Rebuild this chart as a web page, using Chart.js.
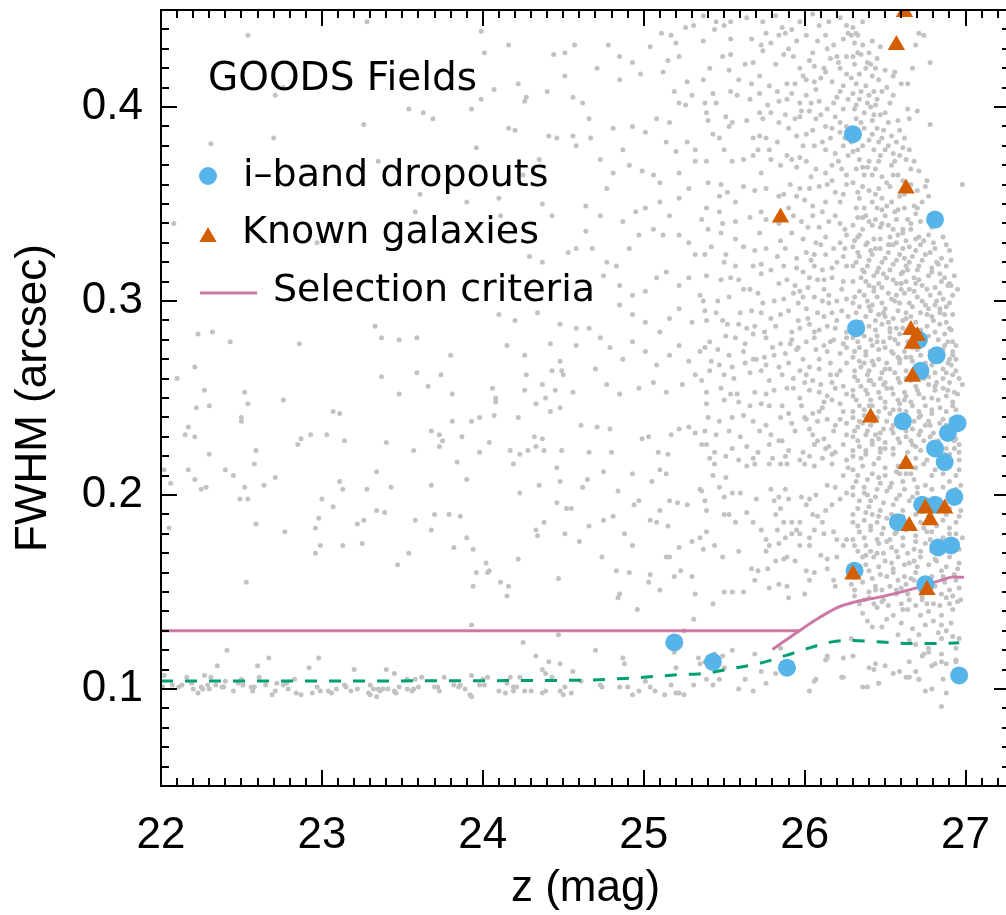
<!DOCTYPE html>
<html>
<head>
<meta charset="utf-8">
<title>GOODS Fields - FWHM vs z</title>
<script src="https://cdn.jsdelivr.net/npm/chart.js@4.4.0/dist/chart.umd.min.js"></script>
<style>
  html, body { margin: 0; padding: 0; background: #fff; overflow: hidden; }
  #wrap { width: 1006px; height: 915px; overflow: hidden; }
</style>
</head>
<body>
<div id="wrap"><canvas id="fwhmChart" width="1020" height="915"></canvas></div>
<script>
// axis ticks
const xTicks = [22, 23, 24, 25, 26, 27];
const yTicks = [0.1, 0.2, 0.3, 0.4];

// i-band dropouts
const dropMag  = [26.30, 26.81, 26.32, 26.71, 26.82, 26.72, 26.61, 26.95, 26.89, 26.81, 26.87, 26.93, 26.73, 26.81, 26.58, 26.91, 26.83, 26.31, 26.75, 25.19, 25.43, 25.89, 26.96];
const dropFwhm = [0.386, 0.342, 0.286, 0.280, 0.272, 0.264, 0.238, 0.237, 0.232, 0.224, 0.217, 0.199, 0.195, 0.195, 0.186, 0.174, 0.173, 0.161, 0.154, 0.124, 0.114, 0.111, 0.107];

// known galaxies
const knownMag  = [26.62, 26.57, 26.63, 25.85, 26.66, 26.70, 26.67, 26.67, 26.41, 26.63, 26.75, 26.87, 26.78, 26.65, 26.30, 26.76];
const knownFwhm = [0.449, 0.432, 0.358, 0.343, 0.285, 0.282, 0.278, 0.261, 0.240, 0.216, 0.193, 0.193, 0.187, 0.184, 0.159, 0.151];

// selection criteria (flat part + curved part)
const selFlatMag  = [22, 25.97];
const selFlatFwhm = [0.130, 0.130];
const selCurveMag  = [25.80, 25.97, 26.09, 26.21, 26.30, 26.48, 26.69, 26.86, 26.92, 26.99];
const selCurveFwhm = [0.1204, 0.1302, 0.1367, 0.1422, 0.1446, 0.1476, 0.1520, 0.1564, 0.1577, 0.1576];

// stellar locus (dashed)
const starMag  = [22, 24.60, 24.93, 25.22, 25.39, 25.55, 25.72, 25.88, 26.03, 26.17, 26.30, 26.48, 26.63, 26.79, 26.96];
const starFwhm = [0.1041, 0.1045, 0.1057, 0.1074, 0.1082, 0.1106, 0.1132, 0.1172, 0.1212, 0.1243, 0.1250, 0.1242, 0.1235, 0.1234, 0.1238];

// all field sources [z mag, FWHM]
const fieldSources = [
  // bright, large
  [22.54,0.437],[23.28,0.444],[23.99,0.439],[24.01,0.428],[24.16,0.432],[24.44,0.427],[24.51,0.428],[24.57,0.432],[24.51,0.416],[24.22,0.412],
  [24.07,0.409],[24.27,0.405],[24.26,0.403],[24.40,0.408],[23.99,0.404],[24.56,0.405],[22.71,0.406],[22.76,0.410],[23.54,0.399],[23.63,0.397],
  [23.69,0.394],[23.93,0.399],[23.26,0.391],[22.70,0.384],[22.31,0.381],[24.16,0.389],[24.20,0.388],[24.41,0.385],[24.46,0.384],[24.56,0.385],
  [23.96,0.379],[24.58,0.380],[24.35,0.373],[23.35,0.372],[24.25,0.365],[24.10,0.353],[23.90,0.351],[23.61,0.355],[24.37,0.350],[23.58,0.346],
  [24.43,0.344],[24.11,0.344],[22.08,0.340],[24.53,0.325],[24.58,0.327],[24.29,0.323],[22.97,0.330],[24.37,0.320],[24.10,0.293],[24.20,0.290],
  [24.34,0.294],[23.33,0.287],[24.48,0.288],[24.58,0.286],[22.23,0.283],[22.32,0.284],[22.43,0.279],[22.86,0.278],[23.37,0.281],[23.48,0.280],
  [23.59,0.281],[23.80,0.272],[24.15,0.277],[24.42,0.278],[24.26,0.272],[24.58,0.277],[22.21,0.266],[22.10,0.260],[22.27,0.254],[22.52,0.253],
  [22.76,0.249],[23.37,0.261],[23.59,0.263],[23.74,0.262],[23.66,0.256],[23.48,0.252],[23.81,0.252],[24.06,0.255],[24.27,0.262],[24.43,0.264],
  [24.48,0.269],[24.49,0.264],[24.50,0.262],[24.37,0.257],[24.45,0.254],[24.26,0.254],[24.08,0.250],[24.39,0.250],[24.56,0.253],
  // bright, medium
  [22.22,0.245],[22.30,0.246],[22.54,0.247],[22.15,0.231],[22.17,0.235],[22.21,0.230],[22.30,0.221],[22.17,0.213],[22.21,0.208],[22.06,0.206],
  [22.25,0.203],[22.28,0.204],[22.02,0.213],[22.05,0.183],[22.40,0.213],[22.45,0.210],[22.50,0.240],[22.50,0.238],[22.52,0.204],[22.49,0.198],
  [22.54,0.198],[22.58,0.216],[22.59,0.223],[22.64,0.205],[22.71,0.209],[22.59,0.185],[22.53,0.155],[22.77,0.181],[22.85,0.226],[22.87,0.229],
  [22.93,0.231],[23.03,0.231],[23.07,0.243],[23.11,0.242],[23.14,0.228],[23.00,0.198],[23.07,0.194],[22.98,0.188],[22.96,0.183],[22.99,0.174],
  [22.96,0.170],[23.11,0.207],[23.13,0.203],[23.13,0.174],[23.22,0.185],[23.26,0.187],[23.25,0.175],[23.28,0.203],[23.34,0.212],[23.34,0.192],
  [23.40,0.227],[23.39,0.191],[23.43,0.204],[23.47,0.164],[23.54,0.170],[23.57,0.223],[23.58,0.187],[23.68,0.233],[23.73,0.231],[23.75,0.228],
  [23.73,0.225],[23.81,0.238],[23.87,0.230],[23.84,0.217],[23.68,0.205],[23.70,0.190],[23.79,0.190],[23.86,0.189],[23.68,0.182],[23.82,0.173],
  [23.90,0.178],[23.90,0.208],[23.93,0.238],[23.94,0.172],[23.96,0.160],[23.94,0.153],[23.98,0.240],[23.98,0.222],[24.04,0.227],[24.07,0.241],
  [24.08,0.248],[24.22,0.240],[24.19,0.216],[24.17,0.223],[24.23,0.221],[24.28,0.223],[24.23,0.201],[24.32,0.230],[24.33,0.225],[24.37,0.229],
  [24.38,0.223],[24.33,0.247],[24.42,0.243],[24.48,0.245],[24.46,0.214],[24.48,0.207],[24.49,0.223],[24.46,0.196],[24.52,0.193],[24.55,0.193],
  [24.51,0.180],[24.33,0.182],[24.34,0.179],[24.38,0.186],[24.35,0.205],[24.22,0.167],[24.02,0.165],[24.04,0.161],[24.03,0.160],[24.11,0.155],
  [24.16,0.153],[24.15,0.148],[24.47,0.157],[23.93,0.133],[24.60,0.176],
  // bright, stellar locus
  [22.02,0.107],[22.01,0.101],[22.07,0.102],[22.11,0.101],[22.13,0.102],[22.16,0.106],[22.19,0.103],[22.20,0.100],[22.23,0.098],[22.25,0.101],
  [22.26,0.100],[22.27,0.107],[22.29,0.102],[22.30,0.100],[22.31,0.106],[22.34,0.102],[22.35,0.112],[22.38,0.101],[22.39,0.101],[22.40,0.104],
  [22.41,0.120],[22.45,0.099],[22.48,0.103],[22.50,0.105],[22.51,0.102],[22.56,0.101],[22.57,0.099],[22.58,0.101],[22.60,0.112],[22.61,0.106],
  [22.65,0.102],[22.67,0.116],[22.69,0.097],[22.71,0.099],[22.72,0.103],[22.76,0.102],[22.78,0.103],[22.79,0.100],[22.83,0.105],[22.84,0.098],
  [22.87,0.097],[22.92,0.111],[22.94,0.098],[22.97,0.101],[22.98,0.116],[22.99,0.099],[23.04,0.099],[23.06,0.098],[23.09,0.100],[23.14,0.102],
  [23.15,0.101],[23.18,0.099],[23.20,0.110],[23.22,0.100],[23.29,0.098],[23.30,0.102],[23.30,0.097],[23.32,0.100],[23.34,0.096],[23.35,0.100],
  [23.36,0.099],[23.38,0.100],[23.40,0.110],[23.41,0.100],[23.45,0.108],[23.45,0.099],[23.46,0.098],[23.48,0.101],[23.53,0.100],[23.53,0.105],
  [23.56,0.099],[23.57,0.100],[23.58,0.105],[23.60,0.101],[23.62,0.106],[23.70,0.101],[23.72,0.101],[23.73,0.099],[23.76,0.106],[23.82,0.102],
  [23.85,0.101],[23.86,0.102],[23.89,0.100],[23.92,0.097],[23.93,0.096],[23.93,0.107],[23.98,0.102],[24.01,0.102],[24.00,0.105],[24.03,0.106],
  [24.10,0.099],[24.14,0.098],[24.15,0.103],[24.17,0.106],[24.19,0.099],[24.19,0.101],[24.21,0.101],[24.23,0.106],[24.25,0.124],[24.26,0.099],
  [24.30,0.099],[24.33,0.117],[24.37,0.110],[24.37,0.098],[24.39,0.108],[24.39,0.099],[24.41,0.114],[24.43,0.106],[24.48,0.113],[24.48,0.099],
  [24.50,0.097],[24.51,0.101],[24.55,0.098],[24.56,0.109],[24.47,0.128],
  // mid, large
  [24.78,0.432],[24.85,0.426],[24.93,0.423],[24.71,0.420],[24.85,0.414],[24.98,0.417],[25.04,0.431],[25.12,0.418],[25.15,0.424],[25.11,0.438],
  [25.17,0.437],[25.20,0.433],[25.22,0.426],[25.26,0.441],[25.31,0.442],[25.27,0.413],[25.19,0.408],[25.22,0.402],[25.26,0.401],[25.30,0.406],
  [25.16,0.392],[25.08,0.394],[25.01,0.387],[24.93,0.390],[24.81,0.389],[24.73,0.373],[24.66,0.394],[24.62,0.402],[24.67,0.384],[24.87,0.378],
  [24.91,0.370],[24.99,0.367],[25.06,0.365],[25.10,0.361],[24.81,0.366],[24.77,0.358],[24.64,0.349],[24.73,0.344],[24.87,0.341],[24.95,0.346],
  [25.01,0.348],[25.10,0.351],[25.16,0.344],[25.22,0.353],[25.28,0.358],[25.32,0.378],[25.27,0.382],[25.20,0.377],[25.14,0.382],[25.32,0.372],
  [25.22,0.366],[25.28,0.330],[25.22,0.334],[25.12,0.334],[25.06,0.337],[24.97,0.334],[24.91,0.327],[24.83,0.318],[24.77,0.320],[24.68,0.327],
  [24.64,0.336],[25.32,0.324],[24.66,0.308],[24.75,0.313],[24.85,0.308],[24.93,0.303],[25.01,0.305],[25.08,0.312],[25.14,0.315],[25.22,0.308],
  [25.28,0.312],[25.35,0.303],[24.85,0.298],[24.93,0.293],[25.01,0.289],[25.10,0.284],[25.16,0.291],[25.22,0.296],[25.30,0.289],[24.66,0.286],
  [24.73,0.281],[24.79,0.276],[24.87,0.270],[24.93,0.279],[25.01,0.274],[25.08,0.267],[25.16,0.272],[25.22,0.277],[25.28,0.269],[25.35,0.274],
  [24.70,0.265],[24.77,0.257],[24.85,0.252],[24.97,0.255],[25.06,0.258],[25.14,0.253],[25.24,0.257],[25.32,0.262],
  // mid, medium and small
  [24.61,0.236],[24.71,0.235],[24.79,0.234],[24.66,0.222],[24.80,0.222],[24.75,0.212],[24.62,0.204],[24.65,0.208],[24.84,0.202],[24.93,0.211],
  [24.99,0.229],[25.03,0.230],[25.09,0.222],[25.10,0.213],[25.15,0.221],[25.17,0.231],[25.22,0.234],[25.28,0.235],[25.32,0.232],[25.36,0.226],
  [25.14,0.211],[25.05,0.207],[24.97,0.197],[24.94,0.195],[25.10,0.192],[25.16,0.197],[25.21,0.196],[25.27,0.195],[25.35,0.203],[24.66,0.184],
  [24.75,0.187],[24.81,0.189],[24.88,0.180],[24.93,0.174],[25.04,0.187],[25.08,0.186],[25.15,0.184],[25.16,0.168],[25.14,0.168],[25.22,0.173],
  [25.30,0.176],[25.35,0.178],[24.74,0.168],[24.83,0.161],[24.91,0.160],[25.04,0.159],[25.03,0.155],[25.10,0.151],[25.19,0.158],[25.23,0.161],
  [25.30,0.158],[24.85,0.149],[24.84,0.147],[24.96,0.141],[25.32,0.149],[25.25,0.130],[25.31,0.136],[24.70,0.120],[24.87,0.116],[24.88,0.113],
  [25.20,0.111],[25.19,0.119],[25.34,0.116],[25.35,0.113],[24.61,0.104],[24.73,0.102],[24.74,0.101],[24.85,0.101],[24.90,0.101],[24.93,0.097],
  [24.97,0.099],[25.01,0.104],[25.04,0.101],[25.07,0.099],[25.13,0.097],[25.17,0.102],[25.20,0.098],[25.22,0.098],[25.25,0.097],[25.31,0.102],
  // faint, large
  [25.37,0.447],[25.45,0.444],[25.50,0.442],[25.54,0.444],[25.64,0.446],[25.74,0.444],[25.82,0.447],[25.86,0.441],[25.92,0.440],[25.97,0.444],
  [26.05,0.448],[26.09,0.442],[26.15,0.444],[26.22,0.446],[26.26,0.442],[25.37,0.434],[25.44,0.440],[25.54,0.435],[25.67,0.435],[25.73,0.432],
  [25.76,0.438],[25.79,0.433],[25.84,0.437],[25.88,0.438],[25.95,0.434],[26.01,0.437],[26.08,0.434],[26.13,0.437],[26.18,0.432],[26.24,0.435],
  [26.27,0.438],[25.49,0.426],[25.54,0.427],[25.63,0.422],[25.68,0.423],[25.74,0.429],[25.82,0.422],[25.87,0.427],[25.93,0.426],[25.97,0.420],
  [26.03,0.424],[26.06,0.421],[26.12,0.420],[26.16,0.425],[26.20,0.426],[26.26,0.426],[26.22,0.420],[25.37,0.414],[25.41,0.420],[25.53,0.419],
  [25.59,0.414],[25.67,0.412],[25.72,0.416],[25.78,0.411],[25.83,0.408],[25.89,0.412],[25.94,0.412],[26.01,0.414],[26.06,0.413],[26.10,0.415],
  [26.17,0.413],[26.26,0.417],[26.22,0.408],[25.43,0.407],[25.38,0.402],[25.45,0.402],[25.54,0.408],[25.58,0.406],[25.66,0.404],[25.72,0.407],
  [25.77,0.401],[25.84,0.403],[25.89,0.404],[25.97,0.402],[26.01,0.406],[26.04,0.402],[26.09,0.403],[26.14,0.399],[26.18,0.402],[26.24,0.399],
  [26.27,0.404],[25.39,0.397],[25.40,0.393],[25.51,0.395],[25.55,0.392],[25.53,0.390],[25.64,0.393],[25.72,0.397],[25.74,0.394],[25.79,0.397],
  [25.84,0.392],[25.88,0.396],[25.94,0.394],[25.97,0.395],[26.03,0.398],[26.07,0.394],[26.13,0.390],[26.19,0.395],[26.22,0.387],[26.26,0.390],
  [25.43,0.386],[25.47,0.384],[25.50,0.378],[25.68,0.384],[25.72,0.385],[25.76,0.384],[25.71,0.378],[25.78,0.378],[25.83,0.382],[25.89,0.375],
  [25.95,0.385],[26.01,0.386],[26.06,0.380],[26.11,0.382],[26.16,0.384],[26.24,0.380],[26.19,0.376],[26.27,0.375],[25.39,0.372],[25.55,0.372],
  [25.62,0.373],[25.68,0.375],[25.73,0.366],[25.79,0.373],[25.85,0.370],[25.92,0.373],[25.97,0.374],[26.01,0.372],[26.07,0.368],[26.13,0.366],
  [26.17,0.370],[26.23,0.368],[26.26,0.365],[25.40,0.361],[25.48,0.360],[25.47,0.354],[25.52,0.356],[25.62,0.359],[25.69,0.357],[25.76,0.358],
  [25.84,0.354],[25.87,0.355],[25.95,0.354],[25.97,0.358],[26.03,0.358],[26.09,0.359],[26.14,0.360],[26.19,0.356],[26.26,0.360],[26.22,0.351],
  [26.13,0.351],[26.05,0.349],[25.90,0.348],[25.57,0.351],[25.39,0.348],[25.36,0.342],[25.47,0.346],[25.49,0.340],[25.57,0.341],[25.66,0.343],
  [25.73,0.346],[25.76,0.342],[25.93,0.344],[25.98,0.341],[26.05,0.344],[26.09,0.338],[26.15,0.341],[26.19,0.344],[26.25,0.337],[25.40,0.337],
  [25.90,0.430],[26.05,0.428],[26.14,0.430],[26.21,0.423],[25.99,0.416],[26.13,0.418],[26.24,0.411],[25.92,0.407],[26.07,0.409],[26.20,0.405],
  [25.98,0.398],[26.10,0.396],[26.22,0.392],[25.90,0.389],[26.05,0.388],[26.17,0.389],[26.25,0.384],[25.99,0.380],[26.13,0.378],[26.21,0.372],
  [25.95,0.369],[26.04,0.364],[26.17,0.362],[26.24,0.355],[25.91,0.360],[26.00,0.352],[26.11,0.346],[26.22,0.340],[25.84,0.340],[26.02,0.338],
  // faintest, large
  [26.30,0.441],[26.32,0.438],[26.36,0.444],[26.31,0.433],[26.36,0.432],[26.42,0.434],[26.47,0.431],[26.30,0.426],[26.35,0.427],[26.40,0.428],
  [26.31,0.422],[26.41,0.422],[26.44,0.420],[26.55,0.416],[26.56,0.418],[26.32,0.412],[26.38,0.411],[26.43,0.408],[26.48,0.408],[26.51,0.410],
  [26.30,0.407],[26.34,0.404],[26.39,0.402],[26.44,0.401],[26.53,0.402],[26.31,0.399],[26.37,0.397],[26.41,0.400],[26.47,0.396],[26.32,0.394],
  [26.42,0.393],[26.45,0.389],[26.37,0.389],[26.40,0.383],[26.48,0.384],[26.54,0.385],[26.59,0.388],[26.64,0.399],[26.70,0.398],[26.65,0.394],
  [26.60,0.412],[26.64,0.412],[26.71,0.438],[26.74,0.437],[26.78,0.423],[26.78,0.391],[26.98,0.360],[26.36,0.380],[26.43,0.378],[26.50,0.378],
  [26.57,0.382],[26.62,0.384],[26.65,0.378],[26.30,0.377],[26.34,0.373],[26.40,0.372],[26.46,0.372],[26.54,0.370],[26.59,0.375],[26.63,0.373],
  [26.66,0.368],[26.71,0.367],[26.32,0.368],[26.37,0.365],[26.42,0.365],[26.48,0.364],[26.55,0.365],[26.30,0.361],[26.36,0.359],[26.40,0.357],
  [26.46,0.358],[26.53,0.359],[26.59,0.354],[26.34,0.353],[26.42,0.351],[26.48,0.353],[26.54,0.351],[26.62,0.348],[26.69,0.345],[26.32,0.348],
  [26.38,0.344],[26.44,0.342],[26.50,0.344],[26.57,0.342],[26.64,0.342],[26.66,0.340],[26.30,0.339],[26.36,0.337],[26.42,0.339],[26.48,0.340],
  [26.55,0.337],[26.61,0.337],[26.75,0.359],[26.77,0.354],[26.73,0.351],[26.76,0.362],[26.67,0.420],[26.69,0.432],[26.29,0.437],[26.33,0.437],
  [26.39,0.423],[26.34,0.417],[26.46,0.414],[26.40,0.406],[26.50,0.397],[26.29,0.382],[26.46,0.382],[26.55,0.376],[26.39,0.369],[26.61,0.362],
  [26.45,0.348],[26.58,0.347],[26.68,0.349],
  [26.33,0.428],[26.38,0.420],[26.45,0.425],[26.29,0.415],[26.42,0.416],[26.50,0.419],[26.35,0.408],[26.45,0.404],[26.55,0.406],[26.32,0.401],
  [26.43,0.396],[26.52,0.392],[26.35,0.392],[26.49,0.388],[26.58,0.393],[26.32,0.385],[26.42,0.386],[26.52,0.380],[26.61,0.379],[26.33,0.378],
  [26.47,0.375],[26.56,0.372],[26.68,0.372],[26.36,0.369],[26.44,0.368],[26.51,0.361],[26.58,0.365],[26.66,0.360],[26.33,0.356],[26.44,0.355],
  [26.51,0.349],[26.62,0.355],[26.70,0.357],[26.37,0.348],[26.40,0.341],[26.52,0.339],[26.72,0.341],[26.33,0.343],
  // faint, medium
  [25.48,0.335],[25.57,0.332],[25.72,0.335],[25.85,0.331],[25.92,0.335],[25.99,0.332],[26.07,0.330],[26.13,0.333],[26.22,0.330],[26.26,0.334],
  [25.42,0.328],[25.38,0.324],[25.51,0.324],[25.62,0.328],[25.69,0.326],[25.76,0.327],[25.83,0.323],[25.88,0.327],[25.95,0.322],[26.01,0.325],
  [26.06,0.324],[26.13,0.324],[26.18,0.327],[26.24,0.323],[25.50,0.320],[25.57,0.318],[25.68,0.318],[25.73,0.319],[25.79,0.316],[25.87,0.318],
  [25.95,0.317],[25.99,0.315],[26.06,0.318],[26.11,0.316],[26.17,0.317],[26.26,0.318],[25.39,0.313],[25.48,0.311],[25.54,0.312],[25.59,0.311],
  [25.66,0.306],[25.73,0.314],[25.84,0.309],[25.89,0.311],[25.94,0.308],[25.97,0.305],[26.02,0.307],[26.08,0.311],[26.12,0.306],[26.17,0.312],
  [26.24,0.310],[25.37,0.300],[25.46,0.300],[25.53,0.302],[25.62,0.306],[25.71,0.304],[25.74,0.299],[25.81,0.300],[25.87,0.301],[25.93,0.304],
  [25.99,0.302],[26.06,0.302],[26.11,0.300],[26.15,0.299],[26.20,0.300],[26.26,0.301],[25.38,0.295],[25.45,0.294],[25.60,0.294],[25.67,0.295],
  [25.73,0.294],[25.79,0.291],[25.85,0.293],[25.90,0.295],[25.96,0.290],[26.01,0.296],[26.08,0.294],[26.12,0.292],[26.17,0.294],[26.23,0.295],
  [26.27,0.292],[25.39,0.290],[25.49,0.290],[25.52,0.288],[25.59,0.288],[25.64,0.286],[25.69,0.287],[25.75,0.284],[25.82,0.287],[25.92,0.284],
  [25.97,0.286],[26.03,0.288],[26.09,0.285],[26.14,0.287],[26.19,0.286],[26.26,0.284],[25.41,0.279],[25.51,0.282],[25.57,0.281],[25.63,0.278],
  [25.68,0.283],[25.76,0.281],[25.80,0.276],[25.85,0.278],[25.92,0.280],[25.96,0.276],[26.01,0.279],[26.06,0.281],[26.12,0.277],[26.18,0.280],
  [26.24,0.278],[25.38,0.276],[25.46,0.275],[25.53,0.272],[25.62,0.274],[25.68,0.270],[25.75,0.271],[25.81,0.272],[25.88,0.273],[25.95,0.275],
  [25.99,0.270],[26.07,0.275],[26.14,0.274],[26.22,0.273],[26.26,0.276],[25.42,0.269],[25.47,0.267],[25.55,0.266],[25.63,0.268],[25.70,0.270],
  [25.76,0.267],[25.84,0.266],[25.90,0.268],[25.97,0.264],[26.03,0.266],[26.09,0.265],[26.16,0.268],[26.22,0.264],[26.26,0.268],[25.36,0.259],
  [25.41,0.264],[25.50,0.262],[25.56,0.260],[25.66,0.263],[25.73,0.264],[25.78,0.259],[25.86,0.262],[25.93,0.260],[26.00,0.258],[26.05,0.259],
  [26.10,0.257],[26.17,0.258],[26.24,0.256],[25.39,0.253],[25.48,0.255],[25.54,0.252],[25.58,0.252],[25.69,0.253],[25.76,0.252],[25.81,0.254],
  [25.89,0.255],[25.97,0.250],[26.03,0.254],[26.09,0.253],[26.14,0.251],[26.19,0.255],[26.26,0.252],[25.39,0.247],[25.50,0.249],[25.59,0.248],
  [25.66,0.246],[25.73,0.247],[25.78,0.246],[25.86,0.246],[25.90,0.242],[25.98,0.246],[26.05,0.242],[26.11,0.245],[26.17,0.249],[26.24,0.243],
  [25.40,0.240],[25.47,0.238],[25.55,0.240],[25.62,0.241],[25.68,0.238],[25.76,0.236],[25.85,0.240],[25.92,0.237],[26.01,0.239],[26.08,0.238],
  [26.14,0.239],[26.19,0.236],[26.26,0.237],[25.38,0.233],[25.45,0.231],[25.53,0.233],[25.60,0.230],[25.72,0.233],[25.79,0.231],[25.86,0.228],
  [25.94,0.233],[26.05,0.231],[26.12,0.229],[26.18,0.233],[26.26,0.231],[25.39,0.226],[25.44,0.222],[25.55,0.224],[25.64,0.225],[25.71,0.222],
  [25.78,0.226],[25.84,0.228],[25.90,0.223],[25.99,0.222],[26.06,0.226],[26.13,0.224],[26.19,0.222],[26.24,0.226],[25.41,0.219],[25.51,0.220],
  [25.59,0.218],[25.68,0.219],[25.80,0.219],[25.88,0.220],[25.97,0.218],[26.03,0.220],[26.11,0.219],[26.17,0.221],[26.26,0.218],
  [26.10,0.329],[26.20,0.320],[26.03,0.312],[26.15,0.303],[26.23,0.306],[26.02,0.291],[26.20,0.290],[26.06,0.284],[26.16,0.279],[26.09,0.270],
  [26.20,0.262],[26.01,0.262],[26.12,0.248],[26.22,0.247],[26.03,0.234],[26.15,0.225],[26.09,0.243],[26.22,0.239],
  [25.93,0.255],[26.00,0.240],[26.08,0.228],[26.16,0.262],[26.26,0.281],[25.96,0.299],[26.12,0.311],[26.25,0.327],[26.04,0.321],[25.91,0.278],
  // faintest, medium
  [26.34,0.334],[26.43,0.332],[26.53,0.333],[26.61,0.335],[26.69,0.332],[26.77,0.334],[26.86,0.333],
  [26.30,0.328],[26.38,0.329],[26.47,0.327],[26.57,0.330],[26.65,0.328],[26.72,0.329],[26.81,0.327],[26.88,0.329],
  [26.34,0.323],[26.42,0.324],[26.50,0.322],[26.59,0.324],[26.67,0.323],[26.75,0.324],[26.85,0.322],
  [26.30,0.318],[26.39,0.318],[26.46,0.317],[26.55,0.319],[26.63,0.318],[26.71,0.318],[26.79,0.317],[26.88,0.318],
  [26.35,0.312],[26.43,0.313],[26.51,0.312],[26.60,0.314],[26.68,0.312],[26.77,0.313],[26.87,0.312],[26.93,0.313],
  [26.40,0.308],[26.48,0.307],[26.57,0.309],[26.65,0.306],[26.73,0.308],[26.81,0.307],[26.90,0.309],
  [26.31,0.302],[26.37,0.303],[26.45,0.302],[26.54,0.301],[26.62,0.304],[26.70,0.302],[26.78,0.303],[26.86,0.301],[26.95,0.306],
  [26.34,0.297],[26.42,0.298],[26.50,0.296],[26.59,0.299],[26.67,0.297],[26.75,0.298],[26.84,0.296],[26.90,0.299],
  [26.38,0.292],[26.46,0.293],[26.55,0.291],[26.63,0.294],[26.72,0.294],[26.79,0.292],[26.87,0.293],
  [26.40,0.287],[26.48,0.288],[26.57,0.286],[26.76,0.287],[26.84,0.288],[26.90,0.286],
  [26.30,0.281],[26.37,0.282],[26.45,0.282],[26.53,0.281],[26.59,0.283],[26.77,0.282],[26.87,0.283],[26.92,0.279],
  [26.34,0.276],[26.42,0.277],[26.50,0.276],[26.58,0.278],[26.67,0.276],[26.87,0.277],[26.94,0.277],
  [26.30,0.271],[26.38,0.272],[26.46,0.270],[26.55,0.273],[26.63,0.271],[26.72,0.272],[26.90,0.270],[26.94,0.270],
  [26.35,0.266],[26.43,0.267],[26.50,0.265],[26.59,0.268],[26.79,0.267],[26.86,0.265],[26.91,0.267],[26.96,0.260],
  [26.31,0.261],[26.39,0.262],[26.47,0.260],[26.56,0.263],[26.63,0.260],[26.77,0.261],[26.86,0.260],[26.92,0.262],
  [26.35,0.256],[26.43,0.257],[26.51,0.255],[26.59,0.258],[26.69,0.256],[26.77,0.257],[26.86,0.255],[26.93,0.253],[26.98,0.257],
  [26.30,0.251],[26.39,0.252],[26.47,0.250],[26.55,0.252],[26.63,0.251],[26.71,0.252],[26.79,0.250],[26.88,0.251],[26.95,0.252],
  [26.34,0.246],[26.42,0.246],[26.50,0.245],[26.59,0.247],[26.67,0.246],[26.75,0.246],[26.84,0.245],[26.92,0.246],
  [26.30,0.240],[26.37,0.241],[26.45,0.240],[26.53,0.242],[26.71,0.240],[26.79,0.242],[26.86,0.239],
  [26.33,0.235],[26.41,0.236],[26.49,0.234],[26.57,0.237],[26.67,0.234],[26.75,0.236],[26.94,0.229],
  [26.30,0.230],[26.38,0.231],[26.46,0.229],[26.55,0.232],[26.63,0.230],[26.71,0.231],[26.78,0.230],[26.96,0.226],
  [26.34,0.225],[26.42,0.226],[26.50,0.224],[26.59,0.227],[26.69,0.225],[26.88,0.224],[26.96,0.222],
  [26.30,0.220],[26.38,0.221],[26.46,0.219],[26.55,0.221],[26.69,0.219],[26.90,0.221],[26.96,0.218],
  [26.31,0.331],[26.39,0.330],[26.47,0.332],[26.55,0.329],[26.63,0.331],[26.71,0.333],[26.80,0.330],
  [26.33,0.325],[26.44,0.327],[26.52,0.325],[26.61,0.327],[26.69,0.326],[26.78,0.325],[26.90,0.326],
  [26.32,0.320],[26.40,0.321],[26.48,0.320],[26.57,0.321],[26.65,0.320],[26.73,0.321],[26.82,0.320],[26.91,0.321],
  [26.37,0.315],[26.45,0.315],[26.53,0.316],[26.61,0.315],[26.70,0.316],[26.79,0.315],[26.84,0.314],
  [26.30,0.310],[26.38,0.310],[26.46,0.309],[26.55,0.311],[26.63,0.310],[26.71,0.311],[26.85,0.310],[26.91,0.308],
  [26.34,0.305],[26.43,0.305],[26.52,0.304],[26.60,0.306],[26.68,0.305],[26.76,0.306],[26.84,0.304],[26.92,0.303],
  [26.30,0.299],[26.39,0.300],[26.48,0.299],[26.56,0.300],[26.65,0.299],[26.73,0.300],[26.81,0.298],[26.88,0.297],
  [26.32,0.294],[26.41,0.295],[26.49,0.294],[26.58,0.295],[26.66,0.292],[26.76,0.293],[26.84,0.294],[26.92,0.293],
  [26.35,0.289],[26.44,0.290],[26.52,0.289],[26.61,0.290],[26.69,0.289],[26.80,0.290],[26.88,0.289],
  [26.30,0.284],[26.36,0.285],[26.44,0.285],[26.53,0.284],[26.61,0.286],[26.68,0.284],[26.72,0.285],[26.81,0.284],[26.91,0.285],
  [26.33,0.279],[26.41,0.280],[26.49,0.279],[26.56,0.280],[26.64,0.279],[26.74,0.279],[26.83,0.280],[26.89,0.279],
  [26.31,0.274],[26.38,0.274],[26.46,0.275],[26.54,0.274],[26.62,0.274],[26.70,0.275],[26.78,0.274],[26.85,0.273],[26.92,0.274],
  [26.34,0.269],[26.42,0.269],[26.51,0.268],[26.59,0.270],[26.67,0.269],[26.75,0.268],[26.83,0.269],[26.89,0.268],
  [26.31,0.264],[26.40,0.264],[26.48,0.263],[26.53,0.265],[26.63,0.264],[26.71,0.265],[26.81,0.263],[26.88,0.263],[26.94,0.264],
  [26.33,0.259],[26.41,0.259],[26.50,0.258],[26.58,0.260],[26.66,0.259],[26.74,0.260],[26.82,0.258],[26.90,0.258],
  [26.30,0.254],[26.38,0.254],[26.46,0.253],[26.54,0.255],[26.62,0.253],[26.70,0.254],[26.81,0.254],[26.89,0.254],
  [26.32,0.249],[26.41,0.249],[26.50,0.248],[26.58,0.249],[26.66,0.248],[26.74,0.250],[26.83,0.249],[26.92,0.248],
  [26.30,0.243],[26.37,0.244],[26.46,0.243],[26.55,0.244],[26.63,0.243],[26.71,0.243],[26.79,0.244],[26.88,0.243],[26.94,0.244],
  [26.34,0.238],[26.43,0.238],[26.51,0.238],[26.60,0.239],[26.68,0.238],[26.77,0.238],[26.84,0.237],[26.91,0.239],
  [26.31,0.233],[26.39,0.233],[26.47,0.232],[26.54,0.234],[26.63,0.233],[26.72,0.233],[26.80,0.232],[26.92,0.234],
  [26.33,0.228],[26.42,0.228],[26.50,0.227],[26.58,0.229],[26.66,0.228],[26.74,0.228],[26.83,0.228],[26.93,0.228],
  [26.30,0.223],[26.38,0.223],[26.47,0.222],[26.55,0.224],[26.64,0.222],[26.72,0.223],[26.80,0.224],[26.87,0.221],[26.93,0.224],
  [26.36,0.343],[26.47,0.338],[26.58,0.334],[26.66,0.337],[26.52,0.329],[26.41,0.326],[26.74,0.331],[26.62,0.322],[26.83,0.319],[26.36,0.316],
  [26.49,0.314],[26.69,0.309],[26.57,0.303],[26.82,0.300],[26.40,0.297],[26.63,0.291],[26.53,0.286],[26.71,0.282],[26.45,0.279],[26.86,0.275],
  [26.58,0.271],[26.37,0.268],[26.69,0.262],[26.49,0.257],[26.81,0.256],[26.62,0.249],[26.40,0.246],[26.72,0.241],[26.55,0.236],[26.86,0.233],
  [26.44,0.231],[26.67,0.226],[26.53,0.329],[26.64,0.316],[26.43,0.307],[26.77,0.296],[26.50,0.292],[26.66,0.271],[26.40,0.259],[26.59,0.244],
  [26.78,0.236],[26.47,0.224],[26.88,0.236],[26.92,0.272],[26.89,0.308],[26.79,0.338],[26.56,0.346],[26.70,0.348],[26.48,0.347],[26.33,0.333],
  [26.60,0.309],[26.74,0.265],[26.36,0.237],
  // faint, small
  [25.44,0.216],[25.64,0.215],[25.69,0.216],[25.78,0.216],[25.85,0.216],[25.89,0.216],[26.00,0.216],[26.06,0.215],[26.17,0.216],[26.24,0.210],
  [26.27,0.214],[25.43,0.210],[25.51,0.209],[25.55,0.201],[25.50,0.199],[25.60,0.201],[25.47,0.204],[25.38,0.197],[25.39,0.192],[25.36,0.202],
  [25.70,0.198],[25.64,0.191],[25.68,0.186],[25.57,0.186],[25.50,0.190],[25.53,0.190],[25.39,0.181],[25.44,0.174],[25.37,0.172],[25.79,0.203],
  [25.81,0.197],[25.84,0.199],[25.88,0.203],[25.90,0.198],[25.85,0.193],[25.82,0.190],[25.87,0.186],[25.92,0.186],[25.95,0.182],[25.97,0.186],
  [26.01,0.195],[25.98,0.199],[26.03,0.198],[26.07,0.200],[26.05,0.190],[26.08,0.189],[26.11,0.186],[26.13,0.192],[26.17,0.195],[26.22,0.198],
  [26.26,0.201],[26.19,0.204],[26.14,0.205],[25.73,0.182],[25.76,0.177],[25.83,0.182],[25.88,0.178],[25.92,0.180],[25.97,0.180],[26.03,0.178],
  [26.06,0.182],[26.12,0.180],[26.18,0.181],[26.26,0.177],[26.20,0.177],[25.76,0.171],[25.49,0.168],[25.59,0.171],[25.78,0.174],[25.84,0.175],
  [25.89,0.168],[25.97,0.174],[26.03,0.174],[26.10,0.169],[26.14,0.167],[26.24,0.174],[26.20,0.168],[25.67,0.162],[25.71,0.161],[25.77,0.162],
  [25.82,0.166],[25.87,0.167],[25.94,0.166],[26.01,0.161],[26.06,0.160],[26.14,0.162],[25.69,0.156],[25.78,0.152],[25.84,0.154],[25.89,0.153],
  [26.03,0.156],[26.18,0.156],[26.19,0.153],[25.50,0.150],[25.55,0.150],[25.62,0.150],[25.43,0.144],[25.90,0.147],[26.00,0.149],[25.44,0.118],
  [25.49,0.117],[25.55,0.120],[25.69,0.118],[25.73,0.109],[25.63,0.105],[25.76,0.103],[25.82,0.108],[25.85,0.121],[26.06,0.104],[26.13,0.115],
  [26.14,0.117],[26.24,0.106],[25.39,0.105],[25.47,0.105],[25.43,0.102],[25.59,0.100],[25.68,0.099],[25.38,0.114],[25.50,0.111],
  [26.03,0.099],[26.07,0.105],[26.23,0.106],[26.14,0.116],[26.24,0.116],
  // faintest, small
  [26.30,0.213],[26.36,0.215],[26.43,0.216],[26.50,0.214],[26.57,0.212],[26.69,0.214],[26.74,0.216],[26.81,0.213],[26.90,0.215],[26.96,0.213],
  [26.32,0.207],[26.39,0.208],[26.46,0.209],[26.54,0.206],[26.61,0.207],[26.68,0.208],[26.75,0.205],[26.90,0.207],[26.97,0.205],
  [26.30,0.200],[26.37,0.201],[26.44,0.199],[26.51,0.202],[26.59,0.200],[26.67,0.199],[26.96,0.198],
  [26.33,0.193],[26.40,0.194],[26.47,0.192],[26.55,0.195],[26.61,0.192],[26.71,0.192],[26.90,0.193],[26.97,0.192],
  [26.30,0.186],[26.37,0.187],[26.45,0.186],[26.51,0.188],[26.72,0.186],[26.86,0.187],[26.94,0.186],
  [26.34,0.181],[26.41,0.182],[26.48,0.180],[26.56,0.180],[26.63,0.182],[26.69,0.179],[26.76,0.181],[26.94,0.180],[26.98,0.178],
  [26.31,0.174],[26.38,0.174],[26.46,0.175],[26.54,0.173],[26.61,0.174],[26.68,0.172],[26.75,0.175],[26.79,0.171],[26.96,0.172],
  [26.36,0.168],[26.43,0.168],[26.50,0.166],[26.58,0.168],[26.65,0.165],[26.72,0.168],[26.81,0.167],[26.90,0.168],[26.96,0.165],
  [26.40,0.161],[26.47,0.159],[26.55,0.162],[26.62,0.158],[26.69,0.160],[26.85,0.161],[26.93,0.159],
  [26.29,0.154],[26.36,0.155],[26.44,0.151],[26.53,0.153],[26.60,0.152],[26.68,0.156],[26.81,0.153],[26.90,0.151],[26.96,0.152],
  [26.31,0.148],[26.40,0.147],[26.48,0.145],[26.57,0.149],[26.65,0.146],[26.73,0.148],[26.80,0.144],[26.88,0.147],[26.95,0.145],
  [26.36,0.139],[26.45,0.142],[26.55,0.138],[26.64,0.141],[26.72,0.138],[26.77,0.140],[26.85,0.138],[26.92,0.141],
  [26.42,0.132],[26.48,0.132],[26.67,0.131],[26.71,0.128],[26.80,0.135],[26.85,0.133],[26.88,0.130],
  [26.29,0.126],[26.65,0.125],[26.69,0.123],[26.77,0.121],[26.85,0.126],[26.92,0.127],[26.96,0.126],
  [26.30,0.117],[26.40,0.111],[26.44,0.113],[26.50,0.112],[26.59,0.109],[26.65,0.114],[26.73,0.117],[26.77,0.119],[26.81,0.113],[26.85,0.114],
  [26.88,0.113],[26.94,0.114],[26.39,0.101],[26.46,0.103],[26.55,0.108],[26.63,0.106],[26.71,0.105],[26.79,0.100],[26.86,0.105],[26.69,0.109],
  [26.85,0.091],[26.88,0.098],[26.75,0.099],[26.36,0.101],[26.43,0.110],[26.46,0.103],[26.65,0.106],[26.71,0.105],[26.85,0.118],[26.74,0.118],
  [26.79,0.112],[26.94,0.115],
  [26.33,0.210],[26.42,0.211],[26.50,0.210],[26.59,0.211],[26.66,0.211],[26.79,0.210],[26.86,0.211],[26.94,0.210],
  [26.30,0.204],[26.37,0.204],[26.45,0.203],[26.53,0.204],[26.62,0.203],[26.70,0.204],[26.79,0.203],[26.86,0.204],[26.94,0.203],
  [26.34,0.197],[26.41,0.197],[26.49,0.196],[26.57,0.198],[26.65,0.197],[26.75,0.197],[26.84,0.197],[26.92,0.197],
  [26.30,0.190],[26.38,0.191],[26.46,0.189],[26.54,0.190],[26.61,0.189],[26.69,0.190],[26.77,0.189],[26.88,0.190],[26.96,0.189],
  [26.33,0.184],[26.41,0.184],[26.49,0.183],[26.57,0.184],[26.65,0.184],[26.74,0.183],[26.82,0.184],[26.90,0.183],
  [26.30,0.177],[26.37,0.178],[26.45,0.177],[26.53,0.177],[26.61,0.178],[26.69,0.176],[26.78,0.177],[26.86,0.178],[26.92,0.176],
  [26.33,0.171],[26.41,0.171],[26.49,0.170],[26.57,0.171],[26.64,0.170],[26.72,0.171],[26.84,0.170],[26.92,0.171],
  [26.30,0.164],[26.38,0.164],[26.46,0.163],[26.54,0.165],[26.62,0.164],[26.70,0.163],[26.77,0.164],[26.88,0.163],[26.95,0.162],
  [26.33,0.158],[26.42,0.157],[26.51,0.158],[26.58,0.156],[26.66,0.157],[26.79,0.158],[26.86,0.158],[26.94,0.156],
  [26.31,0.151],[26.40,0.150],[26.48,0.151],[26.57,0.151],[26.64,0.149],[26.72,0.151],[26.85,0.149],[26.92,0.148],
  [26.34,0.144],[26.43,0.144],[26.52,0.143],[26.60,0.144],[26.69,0.143],[26.76,0.144],[26.84,0.143],[26.90,0.144],[26.97,0.146],
  [26.39,0.135],[26.51,0.136],[26.60,0.134],[26.75,0.133],[26.83,0.129],[26.91,0.134],[26.58,0.128],[26.94,0.121],
  [26.35,0.219],[26.76,0.218],[26.58,0.215],[26.47,0.206],[26.70,0.201],[26.82,0.195],[26.42,0.190],[26.60,0.186],[26.79,0.181],[26.51,0.176],
  [26.38,0.169],[26.68,0.166],[26.55,0.160],[26.87,0.155],[26.44,0.153],[26.73,0.146],[26.61,0.141],[26.37,0.146],[26.63,0.211],[26.39,0.200],
  [26.75,0.192],[26.57,0.181],[26.45,0.170],[26.82,0.166],[26.63,0.154],[26.49,0.146],[26.90,0.180]
];

const LABEL_FONT = "'Liberation Sans', Arial, sans-serif";
const LEGEND_FONT = "'DejaVu Sans', sans-serif";

const toXY = (xs, ys) => xs.map((v, i) => ({ x: v, y: ys[i] }));

// frame with inward ticks on all four sides
const framePlugin = {
  id: 'frame',
  afterDraw(chart) {
    const { ctx, chartArea: a, scales: { x, y } } = chart;
    ctx.save();
    ctx.strokeStyle = '#000';
    ctx.lineWidth = 2;
    ctx.strokeRect(a.left, a.top, a.right - a.left, a.bottom - a.top);
    ctx.beginPath();
    for (let i = 220; i <= 272; i++) {
      const px = Math.round(x.getPixelForValue(i / 10));
      const len = i % 10 === 0 ? 16 : 8;
      ctx.moveTo(px, a.bottom); ctx.lineTo(px, a.bottom - len);
      ctx.moveTo(px, a.top); ctx.lineTo(px, a.top + len);
    }
    for (let i = 5; i <= 45; i++) {
      const py = Math.round(y.getPixelForValue(i / 100));
      const len = i % 10 === 0 ? 16 : 8;
      ctx.moveTo(a.left, py); ctx.lineTo(a.left + len, py);
      ctx.moveTo(a.right, py); ctx.lineTo(a.right - len, py);
    }
    ctx.stroke();
    ctx.restore();
  }
};

// legend in the upper-left corner
const legendPlugin = {
  id: 'cornerLegend',
  afterDraw(chart) {
    const { ctx, chartArea: a } = chart;
    const x0 = a.left;
    const y0 = a.top;
    ctx.save();
    ctx.fillStyle = '#000';
    ctx.textBaseline = 'alphabetic';
    ctx.textAlign = 'left';
    ctx.font = '39px ' + LEGEND_FONT;
    ctx.fillText('GOODS Fields', x0 + 47, y0 + 80);

    ctx.font = '38px ' + LEGEND_FONT;
    // circle
    ctx.fillStyle = '#56B4E9';
    ctx.beginPath();
    ctx.arc(x0 + 47, y0 + 166, 9, 0, Math.PI * 2);
    ctx.fill();
    ctx.fillStyle = '#000';
    ctx.fillText('i\u2013band dropouts', x0 + 82, y0 + 176);

    // triangle
    const tx = x0 + 47, ty = y0 + 227, r = 10;
    ctx.fillStyle = '#D55E00';
    ctx.beginPath();
    ctx.moveTo(tx, ty - r);
    ctx.lineTo(tx + r * 0.866, ty + r / 2);
    ctx.lineTo(tx - r * 0.866, ty + r / 2);
    ctx.closePath();
    ctx.fill();
    ctx.fillStyle = '#000';
    ctx.fillText('Known galaxies', x0 + 81, y0 + 233);

    // line
    ctx.strokeStyle = '#CC79A7';
    ctx.lineWidth = 3;
    ctx.beginPath();
    ctx.moveTo(x0 + 39, y0 + 283);
    ctx.lineTo(x0 + 96, y0 + 283);
    ctx.stroke();
    ctx.fillText('Selection criteria', x0 + 112, y0 + 291);
    ctx.restore();
  }
};

const ctx = document.getElementById('fwhmChart').getContext('2d');
const fwhmChart = new Chart(ctx, {
  type: 'scatter',
  data: {
    datasets: [
      {
        label: 'Known galaxies',
        data: toXY(knownMag, knownFwhm),
        pointStyle: 'triangle',
        pointRadius: 10,
        pointBackgroundColor: '#D55E00',
        pointBorderWidth: 0,
        clip: 0,
        order: 0
      },
      {
        label: 'i-band dropouts',
        data: toXY(dropMag, dropFwhm),
        pointStyle: 'circle',
        pointRadius: 9,
        pointBackgroundColor: '#56B4E9',
        pointBorderWidth: 0,
        clip: 0,
        order: 1
      },
      {
        label: 'Selection criteria',
        data: toXY(selFlatMag, selFlatFwhm),
        showLine: true,
        borderColor: '#CC79A7',
        borderWidth: 3,
        pointRadius: 0,
        order: 2
      },
      {
        label: 'Selection criteria (faint)',
        data: toXY(selCurveMag, selCurveFwhm),
        showLine: true,
        borderColor: '#CC79A7',
        borderWidth: 3,
        pointRadius: 0,
        cubicInterpolationMode: 'monotone',
        order: 2
      },
      {
        label: 'Stars',
        data: toXY(starMag, starFwhm),
        showLine: true,
        borderColor: '#009E73',
        borderWidth: 3,
        borderDash: [12, 12],
        pointRadius: 0,
        cubicInterpolationMode: 'monotone',
        order: 3
      },
      {
        label: 'Field',
        data: fieldSources.map(p => ({ x: p[0], y: p[1] })),
        pointRadius: 2.5,
        pointBackgroundColor: '#c2c2c2',
        pointBorderWidth: 0,
        clip: 0,
        order: 4
      }
    ]
  },
  options: {
    responsive: false,
    animation: false,
    events: [],
    // canvas is wider than the window so the right frame falls just outside, as in the original
    layout: { padding: { top: 7, right: 4, left: 0, bottom: 0 } },
    plugins: {
      legend: { display: false },
      tooltip: { enabled: false }
    },
    scales: {
      x: {
        type: 'linear',
        min: 22,
        max: 27.276,
        afterBuildTicks: (axis) => { axis.ticks = xTicks.map(v => ({ value: v })); },
        afterFit: (axis) => { axis.height = 129; axis.paddingLeft = 0; axis.paddingRight = 0; },
        grid: { display: false, drawTicks: false },
        border: { display: false },
        ticks: {
          color: '#000',
          padding: 28,
          maxRotation: 0,
          font: { family: LABEL_FONT, size: 44, lineHeight: 1 },
          callback: (v) => String(v)
        },
        title: {
          display: true,
          text: 'z (mag)',
          color: '#000',
          font: { family: LABEL_FONT, size: 44, lineHeight: 1 },
          padding: { top: 0, bottom: 4 }
        }
      },
      y: {
        type: 'linear',
        min: 0.05,
        max: 0.45,
        afterBuildTicks: (axis) => { axis.ticks = yTicks.map(v => ({ value: v })); },
        afterFit: (axis) => { axis.width = 161; axis.paddingTop = 0; axis.paddingBottom = 0; },
        grid: { display: false, drawTicks: false },
        border: { display: false },
        ticks: {
          color: '#000',
          padding: 18,
          font: { family: LABEL_FONT, size: 44, lineHeight: 1 },
          callback: (v) => Number(v).toFixed(1)
        },
        title: {
          display: true,
          text: 'FWHM (arcsec)',
          color: '#000',
          font: { family: LABEL_FONT, size: 44, lineHeight: 1 },
          padding: { top: 12, bottom: 0 }
        }
      }
    }
  },
  plugins: [framePlugin, legendPlugin]
});
</script>
</body>
</html>
